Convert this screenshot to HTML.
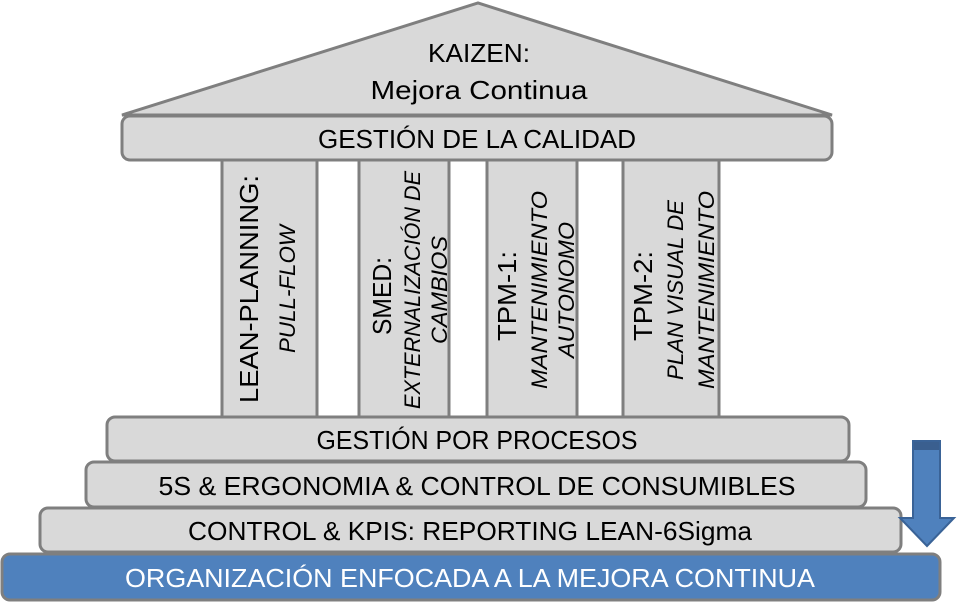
<!DOCTYPE html>
<html><head><meta charset="utf-8"><style>body{margin:0;background:#fff}svg{display:block}</style></head>
<body>
<svg width="957" height="615" viewBox="0 0 957 615" xmlns="http://www.w3.org/2000/svg" font-family="Liberation Sans, sans-serif">
<g fill="#d9d9d9" stroke="#7f7f7f" stroke-width="3">
<polygon points="122,115 478,3 832,115"/>
<rect x="122" y="116" width="710" height="44" rx="8"/>
<rect x="222" y="160" width="95" height="257"/>
<rect x="359" y="160" width="90" height="257"/>
<rect x="487" y="160" width="90" height="257"/>
<rect x="623" y="160" width="96" height="257"/>
<rect x="107" y="417" width="742" height="44" rx="8"/>
<rect x="86" y="462" width="780" height="45" rx="8"/>
<rect x="40" y="508" width="861" height="44" rx="8"/>
</g>
<rect x="2" y="554" width="938" height="46" rx="8" fill="#4f81bd" stroke="#7f7f7f" stroke-width="3"/>
<polygon points="913,441 940,441 940,518 954,518 927,546 900,518 913,518" fill="#4f81bd" stroke="#3a6397" stroke-width="2"/>
<rect x="914" y="442" width="25" height="8" fill="#3a5f8f"/>
<g font-size="26" fill="#000" text-anchor="middle">
<text x="479" y="62" textLength="102" lengthAdjust="spacingAndGlyphs">KAIZEN:</text>
<text x="479" y="99" textLength="217" lengthAdjust="spacingAndGlyphs">Mejora Continua</text>
<text x="477" y="148" textLength="318" lengthAdjust="spacingAndGlyphs">GESTIÓN DE LA CALIDAD</text>
<text x="477" y="449" textLength="321" lengthAdjust="spacingAndGlyphs">GESTIÓN POR PROCESOS</text>
<text x="477" y="495" textLength="637" lengthAdjust="spacingAndGlyphs">5S &amp; ERGONOMIA &amp; CONTROL DE CONSUMIBLES</text>
<text x="470" y="540" textLength="564" lengthAdjust="spacingAndGlyphs">CONTROL &amp; KPIS: REPORTING LEAN-6Sigma</text>
<text x="470" y="587" fill="#fff" textLength="690" lengthAdjust="spacingAndGlyphs">ORGANIZACIÓN ENFOCADA A LA MEJORA CONTINUA</text>
</g>
<g fill="#000" text-anchor="middle">
<text transform="translate(258,289) rotate(-90)" font-size="26" textLength="228" lengthAdjust="spacingAndGlyphs">LEAN-PLANNING:</text>
<text transform="translate(295,289) rotate(-90)" font-size="22" font-style="italic" textLength="128" lengthAdjust="spacingAndGlyphs">PULL-FLOW</text>
<text transform="translate(391,296) rotate(-90)" font-size="26" textLength="78" lengthAdjust="spacingAndGlyphs">SMED:</text>
<text transform="translate(420,290) rotate(-90)" font-size="22" font-style="italic" textLength="238" lengthAdjust="spacingAndGlyphs">EXTERNALIZACIÓN DE</text>
<text transform="translate(447,290) rotate(-90)" font-size="22" font-style="italic" textLength="108" lengthAdjust="spacingAndGlyphs">CAMBIOS</text>
<text transform="translate(516,296) rotate(-90)" font-size="26" textLength="90" lengthAdjust="spacingAndGlyphs">TPM-1:</text>
<text transform="translate(547,290) rotate(-90)" font-size="22" font-style="italic" textLength="198" lengthAdjust="spacingAndGlyphs">MANTENIMIENTO</text>
<text transform="translate(574,290) rotate(-90)" font-size="22" font-style="italic" textLength="136" lengthAdjust="spacingAndGlyphs">AUTONOMO</text>
<text transform="translate(652,296) rotate(-90)" font-size="26" textLength="90" lengthAdjust="spacingAndGlyphs">TPM-2:</text>
<text transform="translate(683,290) rotate(-90)" font-size="22" font-style="italic" textLength="180" lengthAdjust="spacingAndGlyphs">PLAN VISUAL DE</text>
<text transform="translate(714,290) rotate(-90)" font-size="22" font-style="italic" textLength="198" lengthAdjust="spacingAndGlyphs">MANTENIMIENTO</text>
</g>
</svg>
</body></html>
